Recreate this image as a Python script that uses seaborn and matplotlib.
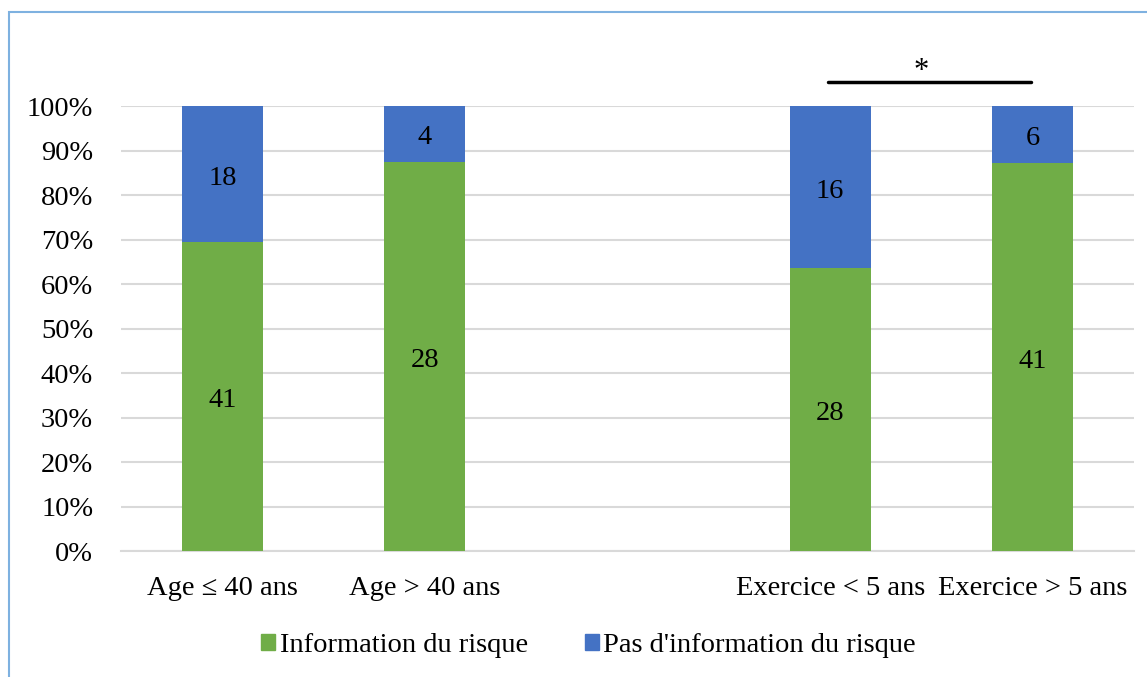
import matplotlib
matplotlib.use("Agg")
import matplotlib.pyplot as plt
import matplotlib.patches as mpatches
import pandas as pd
import seaborn as sns

sns.set_theme(style="white")
plt.rcParams["font.family"] = ["Liberation Serif", "DejaVu Serif"]
plt.rcParams["text.color"] = "black"
plt.rcParams["xtick.color"] = "black"
plt.rcParams["ytick.color"] = "black"

categories = ["Age \u2264 40 ans", "Age > 40 ans", " ", "Exercice < 5 ans", "Exercice > 5 ans"]
informed = [41, 28, None, 28, 41]
not_informed = [18, 4, None, 16, 6]
series_names = ["Information du risque", "Pas d'information du risque"]
green = "#70AD47"
blue = "#4472C4"
fs = 20.5

rows = []
for cat, a, b in zip(categories, informed, not_informed):
    if a is None:
        continue
    tot = a + b
    rows.append({"cat": cat, "inf": a, "pas": b, "share_inf": a / tot, "total": 1.0})
df = pd.DataFrame(rows)

fig = plt.figure(figsize=(11.47, 6.77), dpi=100)
ax = fig.add_axes([0.1055, 0.1861, 0.8832, 0.6573])

sns.barplot(data=df, x="cat", y="total", order=categories, color=blue,
            width=0.4, saturation=1, linewidth=0, ax=ax, zorder=3)
sns.barplot(data=df, x="cat", y="share_inf", order=categories, color=green,
            width=0.4, saturation=1, linewidth=0, ax=ax, zorder=3)

# segment labels
for _, r in df.iterrows():
    i = categories.index(r["cat"])
    ax.annotate(str(r["inf"]), (i, r["share_inf"] / 2), xytext=(0, -3), textcoords="offset points",
                ha="center", va="center", fontsize=fs, zorder=4)
    ax.annotate(str(r["pas"]), (i, (1 + r["share_inf"]) / 2), xytext=(0, -3), textcoords="offset points",
                ha="center", va="center", fontsize=fs, zorder=4)

ax.set_xlim(-0.5, 4.5)
ax.set_ylim(0, 1)
ax.set_yticks([i / 10 for i in range(11)])
ax.set_yticklabels([f"{i * 10}%" for i in range(11)])
ax.yaxis.grid(True, color="#D9D9D9", linewidth=1.5, zorder=0)
ax.set_axisbelow(True)
ax.set_xlabel("")
ax.set_ylabel("")
ax.tick_params(axis="both", length=0, labelsize=fs)
ax.tick_params(axis="x", pad=18)
ax.tick_params(axis="y", pad=20)
for s in ["top", "right", "left"]:
    ax.spines[s].set_visible(False)
ax.spines["bottom"].set_color("#D9D9D9")
ax.spines["bottom"].set_linewidth(1.5)
ax.spines["bottom"].set_zorder(1)

# significance bar
ax.plot([2.99, 3.99], [1.054, 1.054], color="black", linewidth=2.5, clip_on=False)
ax.text(3.45, 1.045, "*", ha="center", va="bottom", fontsize=22, clip_on=False)

handles = [mpatches.Patch(color=green, label=series_names[0]),
           mpatches.Patch(color=blue, label=series_names[1])]
fig.legend(handles=handles, loc="center", bbox_to_anchor=(0.513, 0.046), ncol=2,
           frameon=False, fontsize=fs, handlelength=0.5, handleheight=0.5,
           handletextpad=0.15, columnspacing=2.0)

fig.add_artist(mpatches.Rectangle((9 / 1147, -0.01), 1.0, 1 - 12 / 677 + 0.01,
                                  transform=fig.transFigure, fill=False,
                                  edgecolor="#7EB1E0", linewidth=1.5))

fig.savefig("out.png", dpi=100)
